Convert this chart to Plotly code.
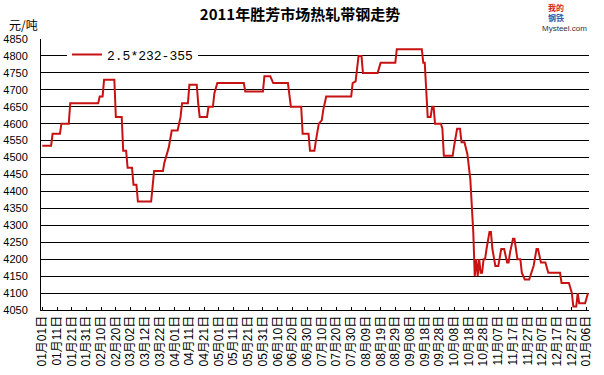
import plotly.graph_objects as go

# ---- data ----
dates = [
    "2011-01-01", "2011-01-07", "2011-01-08", "2011-01-13", "2011-01-14", "2011-01-19",
    "2011-01-20", "2011-02-08", "2011-02-09", "2011-02-11", "2011-02-12", "2011-02-19",
    "2011-02-20", "2011-02-24", "2011-02-25", "2011-02-27", "2011-02-28", "2011-03-03",
    "2011-03-04", "2011-03-06", "2011-03-07", "2011-03-16", "2011-03-17", "2011-03-18",
    "2011-03-24", "2011-03-25", "2011-03-28", "2011-03-30", "2011-04-03", "2011-04-05",
    "2011-04-06", "2011-04-10", "2011-04-11", "2011-04-16", "2011-04-17", "2011-04-18",
    "2011-04-23", "2011-04-24", "2011-04-27", "2011-04-28", "2011-04-30", "2011-05-18",
    "2011-05-19", "2011-05-31", "2011-06-01", "2011-06-05", "2011-06-07", "2011-06-17",
    "2011-06-19", "2011-06-26", "2011-06-27", "2011-07-01", "2011-07-02", "2011-07-05",
    "2011-07-06", "2011-07-08", "2011-07-10", "2011-07-11", "2011-07-13", "2011-07-30",
    "2011-07-31", "2011-08-02", "2011-08-04", "2011-08-06", "2011-08-07", "2011-08-17",
    "2011-08-19", "2011-08-29", "2011-08-30", "2011-09-16", "2011-09-17", "2011-09-18",
    "2011-09-19", "2011-09-20", "2011-09-22", "2011-09-23", "2011-09-24", "2011-09-25",
    "2011-09-29", "2011-09-30", "2011-10-01", "2011-10-07", "2011-10-08", "2011-10-10",
    "2011-10-12", "2011-10-13", "2011-10-15", "2011-10-17", "2011-10-19", "2011-10-21",
    "2011-10-22", "2011-10-23", "2011-10-24", "2011-10-25", "2011-10-26", "2011-10-27",
    "2011-10-28", "2011-10-29", "2011-10-30", "2011-11-01", "2011-11-02", "2011-11-03",
    "2011-11-05", "2011-11-07", "2011-11-09", "2011-11-11", "2011-11-13", "2011-11-14",
    "2011-11-15", "2011-11-17", "2011-11-18", "2011-11-20", "2011-11-22", "2011-11-23",
    "2011-11-25", "2011-11-28", "2011-12-01", "2011-12-03", "2011-12-04", "2011-12-06",
    "2011-12-09", "2011-12-11", "2011-12-19", "2011-12-20", "2011-12-25", "2011-12-27",
    "2011-12-28", "2011-12-30", "2011-12-31", "2012-01-01", "2012-01-05", "2012-01-07",
]
prices = [
    4535, 4535, 4570, 4570, 4600, 4600,
    4660, 4660, 4680, 4680, 4730, 4730,
    4620, 4620, 4520, 4520, 4470, 4470,
    4420, 4420, 4370, 4370, 4415, 4460,
    4460, 4485, 4530, 4580, 4580, 4620,
    4660, 4660, 4715, 4715, 4660, 4620,
    4620, 4650, 4650, 4690, 4720, 4720,
    4695, 4695, 4740, 4740, 4720, 4720,
    4650, 4650, 4570, 4570, 4520, 4520,
    4550, 4600, 4610, 4640, 4680, 4680,
    4720, 4725, 4800, 4800, 4750, 4750,
    4780, 4780, 4820, 4820, 4780, 4780,
    4700, 4620, 4620, 4650, 4650, 4600,
    4600, 4585, 4505, 4505, 4535, 4585,
    4585, 4545, 4545, 4510, 4435, 4280,
    4150, 4200, 4150, 4200, 4160, 4160,
    4200, 4200, 4230, 4280, 4280, 4230,
    4180, 4180, 4230, 4230, 4190, 4190,
    4220, 4260, 4260, 4200, 4200, 4160,
    4140, 4140, 4180, 4230, 4230, 4190,
    4190, 4160, 4160, 4130, 4130, 4100,
    4060, 4060, 4100, 4070, 4070, 4100,
]
series_name = "2.5*232-355"

tick_dates = [
    "2011-01-01", "2011-01-11", "2011-01-21", "2011-01-31", "2011-02-10", "2011-02-20",
    "2011-03-02", "2011-03-12", "2011-03-22", "2011-04-01", "2011-04-11", "2011-04-21",
    "2011-05-01", "2011-05-11", "2011-05-21", "2011-05-31", "2011-06-10", "2011-06-20",
    "2011-06-30", "2011-07-10", "2011-07-20", "2011-07-30", "2011-08-09", "2011-08-19",
    "2011-08-29", "2011-09-08", "2011-09-18", "2011-09-28", "2011-10-08", "2011-10-18",
    "2011-10-28", "2011-11-07", "2011-11-17", "2011-11-27", "2011-12-07", "2011-12-17",
    "2011-12-27", "2012-01-06",
]
tick_labels = [
    "01月01日", "01月11日", "01月21日", "01月31日", "02月10日", "02月20日",
    "03月02日", "03月12日", "03月22日", "04月01日", "04月11日", "04月21日",
    "05月01日", "05月11日", "05月21日", "05月31日", "06月10日", "06月20日",
    "06月30日", "07月10日", "07月20日", "07月30日", "08月09日", "08月19日",
    "08月29日", "09月08日", "09月18日", "09月28日", "10月08日", "10月18日",
    "10月28日", "11月07日", "11月17日", "11月27日", "12月07日", "12月17日",
    "12月27日", "01月06日",
]
y_ticks = list(range(4050, 4851, 50))

title_text = "2011年胜芳市场热轧带钢走势"
unit_text = "元/吨"

FONT = "Liberation Sans, Noto Sans CJK SC, sans-serif"
CJK = "Noto Sans CJK SC, sans-serif"

W, H = 604, 375
plot_l, plot_r, plot_t, plot_b = 41, 589, 39, 310


def px(x):
    return (x - plot_l) / (plot_r - plot_l)


def py(y):
    return (plot_b - y) / (plot_b - plot_t)


fig = go.Figure()
fig.add_trace(go.Scatter(
    x=dates, y=prices, mode="lines", name=series_name,
    line=dict(color="#C81212", width=2),
))

fig.update_layout(
    width=W, height=H,
    margin=dict(l=plot_l, r=W - plot_r, t=plot_t, b=H - plot_b, pad=0,
                autoexpand=False),
    paper_bgcolor="white", plot_bgcolor="white",
    font=dict(family=FONT, size=11, color="black"),
    title=dict(
        text="<b>" + title_text + "</b>",
        x=300 / W, xref="container", xanchor="center",
        y=1 - 15 / H, yref="container", yanchor="middle",
        font=dict(family=CJK, size=15, color="black"),
        automargin=False,
    ),
    showlegend=True,
    legend=dict(
        x=px(67), y=0.998, xanchor="left", yanchor="top",
        bgcolor="white", borderwidth=0,
        font=dict(family="Liberation Mono, monospace", size=13, color="black"),
        itemwidth=30,
    ),
    xaxis=dict(
        type="date",
        range=["2010-12-31 03:00", "2012-01-07 16:00"],
        tickmode="array", tickvals=tick_dates, ticktext=tick_labels,
        tickangle=-90,
        ticks="inside", ticklen=3, tickcolor="black",
        showgrid=False, zeroline=False,
        showline=True, linecolor="black", linewidth=1,
        tickfont=dict(family=FONT, size=12, color="black"),
        automargin=False,
        fixedrange=True,
    ),
    yaxis=dict(
        range=[4050, 4850],
        tickmode="array", tickvals=y_ticks,
        showgrid=True, gridcolor="black", gridwidth=1,
        zeroline=False,
        showline=True, linecolor="black", linewidth=1,
        ticks="", ticklabelstandoff=10,
        tickfont=dict(family=FONT, size=11, color="black"),
        automargin=False,
        fixedrange=True,
    ),
    annotations=[
        dict(text=unit_text, xref="paper", yref="paper", x=px(7), y=py(24),
             xanchor="left", yanchor="middle", showarrow=False,
             font=dict(family=CJK, size=12, color="black")),
        dict(text="<b>我的</b>", xref="paper", yref="paper", x=px(556), y=py(7),
             xanchor="center", yanchor="middle", showarrow=False,
             font=dict(family=CJK, size=8, color="#D02828")),
        dict(text="<b>钢铁</b>", xref="paper", yref="paper", x=px(556), y=py(17.5),
             xanchor="center", yanchor="middle", showarrow=False,
             font=dict(family=CJK, size=8, color="#3A5AA8")),
        dict(text="Mysteel.com", xref="paper", yref="paper", x=px(564), y=py(28),
             xanchor="center", yanchor="middle", showarrow=False,
             font=dict(family="Liberation Sans, sans-serif", size=8, color="#333333")),
    ],
)

fig.write_html(
    "out.html",
    config={"displayModeBar": False},
    post_script="document.body.style.margin='0px';document.body.style.overflow='hidden';",
)
